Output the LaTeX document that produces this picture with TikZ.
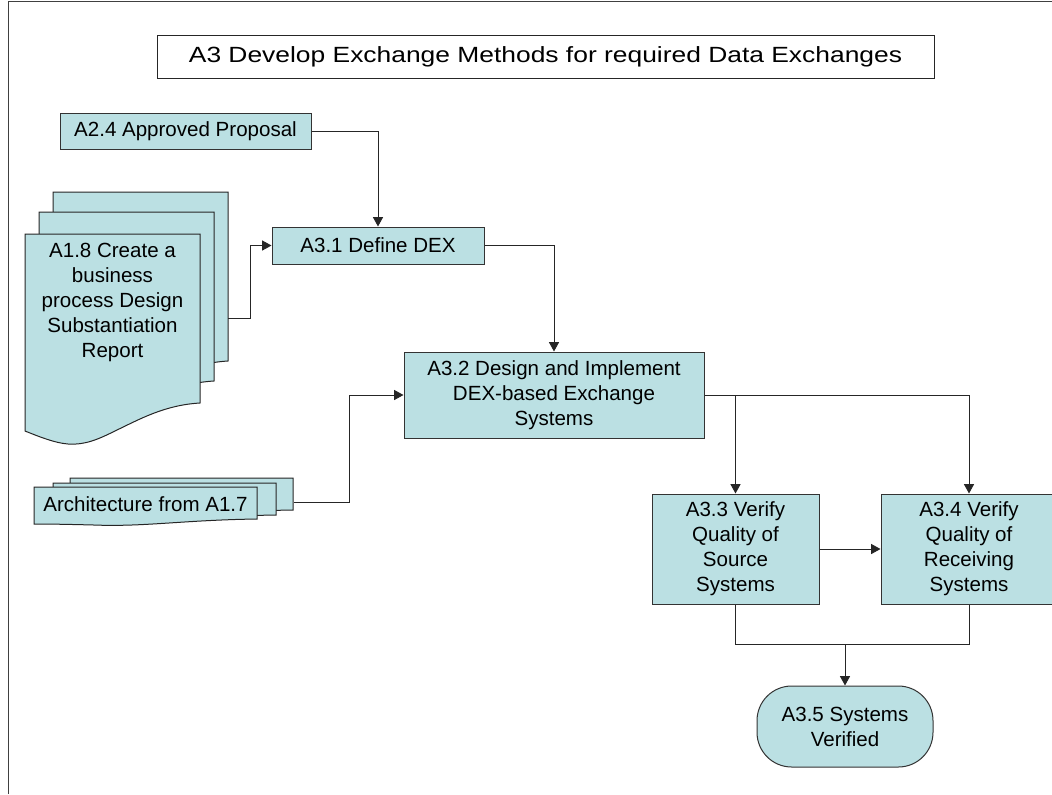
\documentclass[tikz,border=0pt]{standalone}
\usepackage{fontspec}
\setmainfont{Liberation Sans}
\usetikzlibrary{arrows.meta}
\definecolor{boxblue}{RGB}{187,224,227}
\newcommand{\reportpage}[2]{%
        \begin{scope}[shift={(#1,#2)}]
                \filldraw[page] (0,0) -- (175,0) -- (175,169) .. controls (140,171) and (115,185) .. (92,196) .. controls (72,206) and (60,211) .. (43,210) .. controls (30,209) and (15,203) .. (0,197) -- cycle;
        \end{scope}}
\newcommand{\archpage}[2]{%
        \begin{scope}[shift={(#1,#2)}]
                \filldraw[page] (0,0) -- (223,0) -- (223,32) .. controls (150,33) and (110,40) .. (60,38) .. controls (40,37.5) and (20,37) .. (0,37) -- cycle;
        \end{scope}}
\begin{document}
\begin{tikzpicture}[x=0.75pt,y=-0.75pt,
        txt/.style={align=center, inner sep=0pt, font=\fontsize{15.4}{18.75}\selectfont},
        box/.style={txt, draw=black!80, fill=boxblue, line width=0.75pt},
        page/.style={draw=black!85, fill=boxblue, line width=0.75pt},
        link/.style={draw=black!85, line width=0.75pt},
        arr/.style={link, -{Triangle[length=7pt,width=7.5pt]}}]
        \useasboundingbox (0,0) rectangle (1052,794);
        \draw[black!75, line width=0.75pt] (8,794) -- (8,1) -- (1052,1);
        \node[draw=black!85, line width=0.75pt, minimum width=582.75pt, minimum height=32.25pt, font=\fontsize{16.5}{20}\selectfont] (title) at (545.5,56.5) {\scalebox{1.2}[1]{A3 Develop Exchange Methods for required Data Exchanges}};
        \node[box, minimum width=188.25pt, minimum height=27pt] (a24) at (185.5,131) {A2.4 Approved Proposal};
        \node[box, minimum width=159pt, minimum height=27.75pt] (a31) at (378,245.5) {A3.1 Define DEX};
        \node[box, minimum width=225pt, minimum height=64.5pt] (a32) at (554,395) {A3.2 Design and Implement\\DEX-based Exchange\\Systems};
        \node[box, minimum width=125.25pt, minimum height=82.5pt] (a33) at (735.5,549) {A3.3 Verify\\Quality of\\Source\\Systems};
        \node[box, minimum width=132pt, minimum height=82.5pt] (a34) at (969,549) {A3.4 Verify\\Quality of\\Receiving\\Systems};
        \node[box, rounded corners=26pt, minimum width=132pt, minimum height=60.75pt] (a35) at (845,726.5) {A3.5 Systems\\Verified};
        \reportpage{53}{192}
        \reportpage{39}{212}
        \reportpage{25}{234}
        \node[txt] (a18) at (112.5,302) {A1.8 Create a\\business\\process Design\\Substantiation\\Report};
        \archpage{70}{478}
        \archpage{53}{483}
        \archpage{34}{487}
        \node[txt] (a17) at (145.5,504) {Architecture from A1.7};
        \coordinate (a18out) at (228,318);
        \coordinate (a17out) at (294,502);
        \coordinate (merge) at (845,644);
        \draw[arr] (a24.east) -| (a31.north);
        \draw[arr] (a18out) -- ++(22,0) |- (a31.west);
        \draw[arr] (a31.east) -| (a32.north);
        \draw[arr] (a17out) -- ++(55,0) |- (a32.west);
        \draw[arr] (a32.east) -| (a34.north);
        \draw[arr] (a32.east -| a33.north) -- (a33.north);
        \draw[arr] (a33) -- (a34);
        \draw[link] (a33.south) |- (merge) -| (a34.south);
        \draw[arr] (merge) -- (a35.north);
\end{tikzpicture}
\end{document}
